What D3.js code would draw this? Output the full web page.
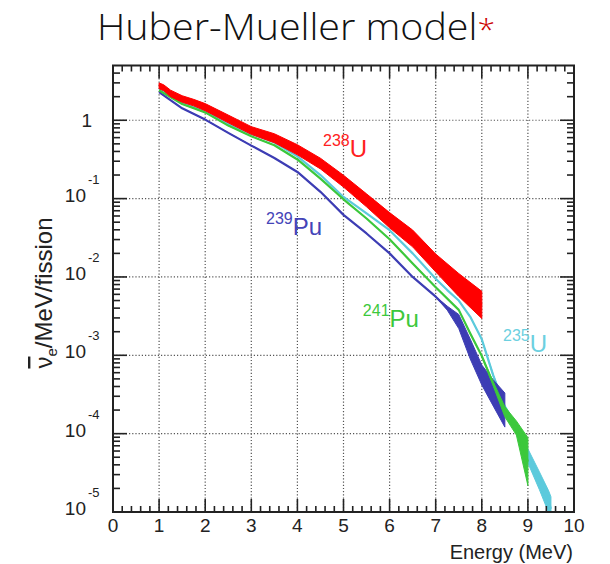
<!DOCTYPE html>
<html>
<head>
<meta charset="utf-8">
<script src="https://cdn.jsdelivr.net/npm/d3@7/dist/d3.min.js"></script>
<style>
  body { margin: 0; background: #fff; }
  svg { display: block; }
</style>
</head>
<body>
<svg id="chart" width="610" height="564"></svg>
<script>
// ---- axis values ----
const xTickValues = [0, 1, 2, 3, 4, 5, 6, 7, 8, 9, 10];
const yDecades = [1, 1e-1, 1e-2, 1e-3, 1e-4, 1e-5];
const yDecadeBase = ["1", "10", "10", "10", "10", "10"];
const yDecadeExp = ["", "-1", "-2", "-3", "-4", "-5"];

// ---- antineutrino spectra per fission (flux) with relative uncertainty ----
const u238Energy = [1.0, 1.1, 1.25, 1.5, 1.75, 2.0, 2.5, 3.0, 3.5, 4.0, 4.5, 5.0, 5.5, 6.0, 6.5, 7.0, 7.5, 8.0];
const u238Flux   = [2.75, 2.6, 2.2, 1.87, 1.68, 1.47, 1.04, 0.74, 0.59, 0.42, 0.28, 0.167, 0.095, 0.053, 0.031, 0.0151, 0.0079, 0.0044];
const u238Err    = [0.09, 0.09, 0.10, 0.10, 0.10, 0.11, 0.12, 0.12, 0.14, 0.16, 0.17, 0.19, 0.21, 0.25, 0.28, 0.30, 0.40, 0.49];

const u235Energy = [1.0, 1.5, 2.0, 2.5, 3.0, 3.5, 4.0, 4.5, 5.0, 5.5, 6.0, 6.5, 7.0, 7.25, 7.5, 7.75, 8.0, 8.25, 8.5, 8.75, 9.0, 9.25, 9.45, 9.5];
const u235Flux   = [2.51, 1.66, 1.33, 0.90, 0.67, 0.52, 0.347, 0.20, 0.105, 0.0646, 0.0395, 0.020, 0.0095, 0.0068, 0.0050, 0.0031, 0.0016, 0.00055, 0.00022, 0.00012, 5.2e-5, 2.5e-5, 1.35e-5, 1.1e-5];
const u235Err    = [0, 0, 0, 0, 0, 0, 0, 0, 0, 0, 0, 0, 0, 0, 0, 0, 0, 0.03, 0.05, 0.09, 0.23, 0.30, 0.38, 0.42];

const pu239Energy = [1.0, 1.5, 2.0, 2.5, 3.0, 3.5, 4.0, 4.5, 5.0, 5.5, 6.0, 6.5, 7.0, 7.25, 7.5, 7.75, 8.0, 8.25, 8.5];
const pu239Flux   = [2.28, 1.42, 1.02, 0.69, 0.475, 0.33, 0.219, 0.122, 0.062, 0.0359, 0.020, 0.0100, 0.0056, 0.0040, 0.0027, 0.0012, 0.00056, 0.00033, 0.0002];
const pu239Err    = [0, 0, 0, 0, 0, 0, 0, 0, 0, 0, 0, 0, 0, 0.06, 0.23, 0.34, 0.34, 0.47, 0.65];

const pu241Energy = [1.0, 1.5, 2.0, 2.5, 3.0, 3.5, 4.0, 4.5, 5.0, 5.5, 6.0, 6.5, 7.0, 7.5, 7.75, 8.0, 8.25, 8.5, 8.75, 9.0];
const pu241Flux   = [2.41, 1.61, 1.26, 0.855, 0.625, 0.48, 0.316, 0.18, 0.098, 0.0557, 0.0303, 0.0149, 0.0074, 0.0038, 0.0019, 0.00098, 0.00043, 0.00019, 0.000118, 4.4e-5];
const pu241Err    = [0, 0, 0, 0, 0, 0, 0, 0, 0, 0, 0, 0, 0, 0, 0, 0, 0.06, 0.16, 0.23, 1.02];

// drawing order: cyan, blue, green, red on top
const series = [
  { name: "235", elem: "U",  color: "#5ccadc", labelColor: "#6cd0e0", E: u235Energy,  F: u235Flux,  R: u235Err,  lx: 8.46, ly: 0.0011 },
  { name: "239", elem: "Pu", color: "#3d3db4", labelColor: "#4444b8", E: pu239Energy, F: pu239Flux, R: pu239Err, lx: 3.32, ly: 0.0344 },
  { name: "241", elem: "Pu", color: "#3cc83c", labelColor: "#3cc83c", E: pu241Energy, F: pu241Flux, R: pu241Err, lx: 5.42, ly: 0.00229 },
  { name: "238", elem: "U",  color: "#ff0000", labelColor: "#ff2020", E: u238Energy,  F: u238Flux,  R: u238Err,  lx: 4.555, ly: 0.34 }
];

const svg = d3.select("#chart");
const pLeft = 113, pRight = 574, pTop = 65.5, pBottom = 512;

const x = d3.scaleLinear().domain([0, 10]).range([pLeft, pRight]);
const y = d3.scaleLog().domain([1e-5, 5]).range([pBottom, pTop]);

const sansFont = "'Liberation Sans', Arial, Helvetica, sans-serif";

// title
const title = svg.append("text")
  .attr("x", 97).attr("y", 40)
  .attr("font-family", "'Open Sans', 'Noto Sans', sans-serif")
  .attr("font-weight", 300)
  .attr("font-size", 37)
  .attr("fill", "#111")
  .attr("textLength", 398)
  .attr("lengthAdjust", "spacingAndGlyphs");
title.append("tspan").text("Huber-Mueller model");
title.append("tspan").attr("fill", "#cc0000").attr("font-size", 30).text("*");

// clip for plot area
svg.append("defs").append("clipPath").attr("id", "plotClip")
  .append("rect").attr("x", pLeft).attr("y", pTop).attr("width", pRight - pLeft).attr("height", pBottom - pTop);

// dotted grid
const grid = svg.append("g").attr("stroke", "#555").attr("stroke-width", 1.2)
  .attr("stroke-dasharray", "1.2,2");
grid.selectAll("line.vx").data(xTickValues.filter(d => d > 0 && d < 10)).join("line")
  .attr("x1", d => x(d)).attr("x2", d => x(d)).attr("y1", pTop).attr("y2", pBottom);
grid.selectAll("line.hy").data(yDecades.filter(d => d > 1e-5)).join("line")
  .attr("x1", pLeft).attr("x2", pRight).attr("y1", d => y(d)).attr("y2", d => y(d));

// curves
const plot = svg.append("g").attr("clip-path", "url(#plotClip)");
series.forEach(s => {
  const pts = s.E.map((e, i) => ({ e, f: s.F[i], r: s.R[i] }));
  const band = d3.area()
    .x(d => x(d.e))
    .y0(d => y(d.f / (1 + d.r)))
    .y1(d => y(d.f * (1 + d.r)));
  const line = d3.line().x(d => x(d.e)).y(d => y(d.f));
  plot.append("path").datum(pts).attr("d", band).attr("fill", s.color).attr("stroke", s.color).attr("stroke-width", 1);
  plot.append("path").datum(pts).attr("d", line).attr("fill", "none").attr("stroke", s.color).attr("stroke-width", 2.2)
    .attr("stroke-linejoin", "round");
});

// isotope labels
series.forEach(s => {
  const t = svg.append("text")
    .attr("x", x(s.lx)).attr("y", y(s.ly))
    .attr("font-family", sansFont)
    .attr("fill", s.labelColor);
  t.append("tspan").attr("font-size", 16).attr("dy", -11).text(s.name);
  t.append("tspan").attr("font-size", 24).attr("dy", 11).text(s.elem);
});

// frame
svg.append("rect").attr("x", pLeft).attr("y", pTop).attr("width", pRight - pLeft).attr("height", pBottom - pTop)
  .attr("fill", "none").attr("stroke", "#222").attr("stroke-width", 2);

// x ticks (bottom and top, inward)
const xMinor = d3.range(0, 10.001, 0.2).filter(v => Math.abs(v - Math.round(v)) > 1e-6);
const ticks = svg.append("g").attr("stroke", "#222").attr("stroke-width", 1.6);
[[pBottom, -1], [pTop, 1]].forEach(([yy, dir]) => {
  ticks.selectAll(null).data(xTickValues.filter(d => d > 0 && d < 10)).join("line")
    .attr("x1", d => x(d)).attr("x2", d => x(d)).attr("y1", yy).attr("y2", yy + dir * 13);
  ticks.selectAll(null).data(xMinor).join("line")
    .attr("x1", d => x(d)).attr("x2", d => x(d)).attr("y1", yy).attr("y2", yy + dir * 6);
});

// y ticks (left and right, inward)
const yMinor = [];
for (let p = -5; p <= 0; p++) {
  for (let k = 2; k <= 9; k++) {
    const v = k * Math.pow(10, p);
    if (v < 5) yMinor.push(v);
  }
}
[[pLeft, 1], [pRight, -1]].forEach(([xx, dir]) => {
  ticks.selectAll(null).data(yDecades).join("line")
    .attr("x1", xx).attr("x2", xx + dir * 14).attr("y1", d => y(d)).attr("y2", d => y(d));
  ticks.selectAll(null).data(yMinor).join("line")
    .attr("x1", xx).attr("x2", xx + dir * 7).attr("y1", d => y(d)).attr("y2", d => y(d));
});

// x tick labels
svg.append("g").selectAll("text").data(xTickValues).join("text")
  .attr("x", d => x(d)).attr("y", 532)
  .attr("text-anchor", "middle")
  .attr("font-family", sansFont).attr("font-size", 19).attr("fill", "#222")
  .text(d => d);

// y tick labels with exponents
const yl = svg.append("g").attr("font-family", sansFont).attr("fill", "#222");
yDecades.forEach((d, i) => {
  const cy = y(d) - 4;
  if (yDecadeExp[i] === "") {
    yl.append("text").attr("x", 92).attr("y", cy + 7 + 4).attr("text-anchor", "end")
      .attr("font-size", 19).text(yDecadeBase[i]);
  } else {
    yl.append("text").attr("x", 86).attr("y", cy + 7).attr("text-anchor", "end")
      .attr("font-size", 19).text(yDecadeBase[i]);
    yl.append("text").attr("x", 88).attr("y", cy - 11).attr("text-anchor", "start")
      .attr("font-size", 13).text(yDecadeExp[i]);
  }
});

// axis titles
svg.append("text")
  .attr("x", 573).attr("y", 559)
  .attr("text-anchor", "end")
  .attr("font-family", sansFont).attr("font-size", 20).attr("fill", "#222")
  .text("Energy (MeV)");

const yt = svg.append("text")
  .attr("transform", "translate(52,293) rotate(-90)")
  .attr("text-anchor", "middle")
  .attr("font-family", sansFont).attr("font-size", 24).attr("fill", "#222");
yt.append("tspan").style("text-decoration", "overline").text("ν");
yt.append("tspan").attr("font-size", 15).attr("dy", 5).text("e");
yt.append("tspan").attr("dy", -5).text("/MeV/fission");
</script>
</body>
</html>
